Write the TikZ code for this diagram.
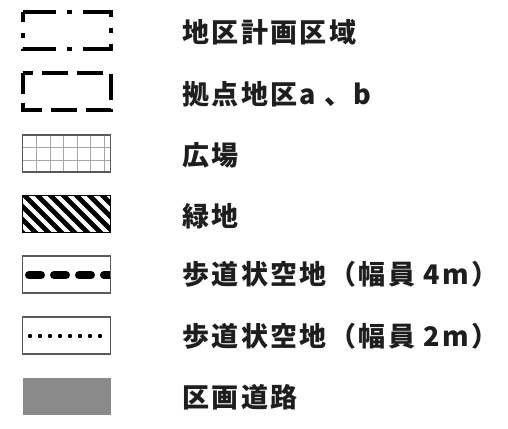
\documentclass[tikz,border=0pt]{standalone}
\usepackage{fontspec}
\newfontfamily\jpfont{Noto Sans CJK JP}[LetterSpace=9]
\definecolor{roadgray}{RGB}{138,138,138}
\definecolor{framegray}{RGB}{90,90,90}
\definecolor{inkgray}{RGB}{30,30,30}

\tikzset{
	legendtext/.style={anchor=west,inner sep=0pt,text=inkgray,
		font=\jpfont\bfseries\fontsize{27}{31}\selectfont},
	symbox/.style={minimum width=88pt,minimum height=37pt,inner sep=0pt,outer sep=0pt},
	heavyline/.style={line width=4pt},
}

\begin{document}
\begin{tikzpicture}[x=1pt,y=-1pt]
	\useasboundingbox (0,0) rectangle (508,428);

	% symbol boxes
	\node[symbox] (plan)   at (66.5,30.5)  {};
	\node[symbox] (base)   at (66.5,91.5)  {};
	\node[symbox] (square) at (66.5,153.5) {};
	\node[symbox] (green)  at (66.5,214)   {};
	\node[symbox] (walkw)  at (66.5,274.5) {};
	\node[symbox] (walkn)  at (66.5,335.5) {};
	\node[symbox] (road)   at (66.5,396.5) {};

	% labels
	\node[legendtext] (tplan)   at (182,32)  {地区計画区域};
	\node[legendtext] (tbase)   at (182,94)  {拠点地区\kern2pt a 、b};
	\node[legendtext] (tsquare) at (182,155) {広場};
	\node[legendtext] (tgreen)  at (182,216) {緑地};
	\node[legendtext] (twalkw)  at (182,274) {歩道状空地（幅員 4m）};
	\node[legendtext] (twalkn)  at (182,336) {歩道状空地（幅員 2m）};
	\node[legendtext] (troad)   at (182,397) {区画道路};

	% 地区計画区域
	\draw[heavyline,dash pattern=on 33pt off 11pt on 5pt off 11pt]
		(plan.north west) -- (plan.north east) -- (plan.south east)
		-- (plan.south west) -- cycle;

	% 拠点地区
	\draw[heavyline,dash pattern=on 26pt off 9pt,dash phase=16pt]
		(base.north west) -- (base.north east) -- (base.south east)
		-- (base.south west) -- cycle;

	% 広場
	\foreach \x in {36.5,50,...,105}
		\draw[gray!70,line width=1pt] (\x,135) -- (\x,172);
	\foreach \y in {147.5,160}
		\draw[gray!70,line width=1pt] (23,\y) -- (110,\y);
	\draw[framegray,line width=1.6pt] (square.north west) rectangle (square.south east);

	% 緑地
	\begin{scope}
		\clip (green.north west) rectangle (green.south east);
		\foreach \x in {-44,-31,...,110}
			\draw[line width=4.6pt] (\x,192) -- ++(44,44);
	\end{scope}
	\draw[line width=1.6pt] (green.north west) rectangle (green.south east);

	% 歩道状空地（幅員 4m）
	\begin{scope}
		\clip (walkw.north west) rectangle (walkw.south east);
		\draw[line width=8pt,line cap=round,dash pattern=on 12pt off 13pt]
			(29,275) -- (120,275);
	\end{scope}
	\draw[framegray,line width=1.4pt] (walkw.north west) rectangle (walkw.south east);

	% 歩道状空地（幅員 2m）
	\foreach \x in {30,40,...,100}
		\fill (\x,336) circle (2.2pt);
	\draw[framegray,line width=1.2pt] (walkn.north west) rectangle (walkn.south east);

	% 区画道路
	\fill[roadgray] (road.north west) rectangle (road.south east);
\end{tikzpicture}
\end{document}
